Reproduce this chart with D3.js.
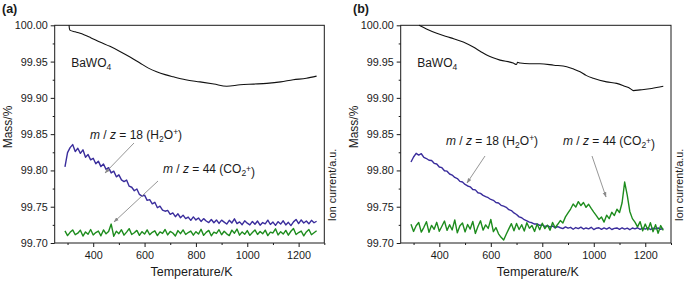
<!DOCTYPE html>
<html><head><meta charset="utf-8">
<script src="https://cdn.jsdelivr.net/npm/d3@7"></script>
<style>
html,body{margin:0;padding:0;background:#fff;}
svg{display:block;font-family:"Liberation Sans",Arial,sans-serif;}
</style></head>
<body>
<svg id="c" width="685" height="281"></svg>
<script>
// ---------- DATA ----------
const massTicks = [99.70, 99.75, 99.80, 99.85, 99.90, 99.95, 100.00];
const massMinor = [99.725, 99.775, 99.825, 99.875, 99.925, 99.975];
const tempTicks = [400, 600, 800, 1000, 1200];
const tempMinor = [300, 500, 700, 900, 1100, 1300];

// Mass curves (K, %)
const massA_T = [306, 307, 310, 330, 349, 390, 426, 465, 504, 545, 582, 615, 647, 680, 712, 760, 816, 870, 920, 972, 1025, 1076, 1130, 1179, 1230, 1270];
const massA_V = [100.00, 99.996, 99.993, 99.991, 99.989, 99.983, 99.977, 99.971, 99.964, 99.956, 99.948, 99.941, 99.936, 99.932, 99.929, 99.925, 99.922, 99.919, 99.916, 99.918, 99.919, 99.920, 99.922, 99.925, 99.927, 99.930];
const massB_T = [321, 350, 390, 442, 493, 532, 560, 584, 636, 687, 700, 704, 714, 750, 791, 845, 895, 920, 947, 970, 998, 1050, 1089, 1120, 1141, 1154, 1180, 1225, 1270];
const massB_V = [100.00, 99.995, 99.989, 99.983, 99.977, 99.970, 99.964, 99.959, 99.952, 99.948, 99.946, 99.949, 99.948, 99.947, 99.947, 99.945, 99.943, 99.940, 99.936, 99.931, 99.927, 99.922, 99.920, 99.916, 99.913, 99.910, 99.911, 99.913, 99.916];

// Ion currents (a.u.), sampled at these temperatures (K)
const ionT = [290,300,310,320,330,340,350,360,370,380,390,400,410,420,430,440,450,460,470,480,490,500,510,520,530,540,550,560,570,580,590,600,610,620,630,640,650,660,670,680,690,700,710,720,730,740,750,760,770,780,790,800,810,820,830,840,850,860,870,880,890,900,910,920,930,940,950,960,970,980,990,1000,1010,1020,1030,1040,1050,1060,1070,1080,1090,1100,1110,1120,1130,1140,1150,1160,1170,1180,1190,1200,1210,1220,1230,1240,1250,1260,1270];
const h2oA = [35.0,41.5,43.8,45.2,42.0,43.5,41.2,42.8,39.4,40.6,38.2,38.9,36.4,37.6,35.1,36.3,33.8,34.6,32.2,33.0,30.4,31.3,29.0,28.2,28.9,26.1,25.6,24.0,24.8,22.3,21.5,22.0,19.6,19.9,18.0,18.7,16.2,16.9,15.1,14.6,15.0,13.2,13.8,12.1,13.4,11.6,12.8,11.2,11.9,10.4,12.0,10.6,11.5,9.9,11.2,10.1,9.4,10.8,9.3,10.6,9.0,10.5,9.6,8.7,10.4,9.2,11.1,8.9,9.7,8.4,10.2,9.1,8.3,9.9,8.6,10.1,8.2,9.4,8.8,10.5,8.5,9.6,8.1,9.8,8.7,10.2,8.3,9.5,8.0,9.7,10.8,8.9,10.6,9.2,10.1,8.8,10.4,9.3,10.0];
const co2A = [5.6,3.4,4.9,6.0,3.8,4.5,5.9,3.2,5.1,4.0,6.2,3.7,4.8,5.5,3.3,6.0,4.2,5.3,8.7,3.1,5.4,4.3,6.1,3.6,5.0,6.6,3.9,4.7,5.8,3.5,5.2,4.1,6.0,3.8,4.9,5.6,3.4,5.1,4.4,6.2,3.7,5.3,4.6,3.2,5.7,4.3,6.0,3.9,4.8,5.5,3.6,5.2,4.1,6.3,3.5,4.9,5.8,3.3,5.0,4.4,6.1,3.8,5.4,4.2,3.4,5.9,4.5,6.4,3.6,5.1,4.0,5.7,3.5,4.8,6.0,3.9,5.3,4.2,5.9,3.4,5.0,4.6,6.5,3.7,5.2,4.1,5.8,3.6,5.4,6.7,3.9,4.8,5.5,3.3,5.1,6.2,3.8,4.7,5.6];
const h2oB = [37.2,39.5,41.2,40.4,41.0,39.3,38.8,38.0,37.9,36.6,36.3,34.9,34.6,33.2,33.0,31.7,31.2,30.1,29.6,28.3,28.0,26.9,26.2,25.8,24.6,24.4,23.1,22.8,21.9,21.3,20.8,20.0,19.6,18.6,18.4,17.3,16.9,16.4,15.3,14.9,13.8,13.1,12.0,11.6,10.7,10.2,9.6,9.3,8.7,8.8,8.1,8.4,7.6,8.0,7.3,7.8,6.9,7.5,7.0,6.6,7.4,6.8,7.2,6.3,7.1,6.6,7.3,6.4,6.9,6.5,7.2,6.2,6.8,7.0,6.3,6.9,6.4,7.1,6.2,6.7,6.9,6.3,7.0,6.4,6.8,6.1,6.9,6.5,7.0,6.3,6.8,6.4,7.0,6.2,6.8,6.5,6.9,6.3,6.7];
const co2B = [8.6,5.3,7.9,9.4,5.0,7.2,9.8,4.9,8.1,6.3,9.5,5.4,7.7,10.1,5.8,8.4,6.0,10.6,4.7,7.9,9.2,5.1,8.5,6.4,9.9,4.4,7.6,10.2,5.9,8.3,6.7,10.8,5.2,7.1,4.2,2.6,1.4,4.0,6.5,8.9,5.6,9.0,6.2,8.4,5.5,9.3,6.8,8.0,5.3,8.7,6.1,9.1,6.6,8.2,5.9,9.4,7.0,8.6,10.3,9.2,12.0,13.8,15.6,17.9,16.5,19.0,17.2,18.6,16.4,17.8,15.9,14.2,12.6,10.8,11.9,9.6,12.8,11.2,14.1,12.6,15.5,14.0,18.5,28.0,22.0,14.5,11.2,9.6,7.4,9.8,5.6,8.7,6.0,9.3,5.2,8.4,4.5,8.0,5.8];

// ---------- DRAW ----------
const svg = d3.select("#c");
const blue = "#3a2d9c", green = "#1d8c1d", grey = "#8a8a8a", ink = "#1a1a1a";

svg.append("defs").append("marker")
  .attr("id","ah").attr("viewBox","0 0 10 10").attr("refX",9).attr("refY",5)
  .attr("markerWidth",6).attr("markerHeight",6).attr("orient","auto")
  .append("path").attr("d","M0,1.5 L10,5 L0,8.5 Z").attr("fill",grey);

function panel(cfg){
  const g = svg.append("g");
  const x = d3.scaleLinear().domain([250,1300]).range([cfg.x0, cfg.x1]);
  const y = d3.scaleLinear().domain([99.70,100.00]).range([243,25.3]);
  const yi = d3.scaleLinear().domain([0,100]).range([243,25.3]);

  g.append("g").attr("transform","translate(0,243)")
    .call(d3.axisBottom(x).tickValues(tempTicks).tickSize(4).tickPadding(4).tickFormat(d3.format("d")));
  g.append("g").attr("transform","translate(0,243)")
    .call(d3.axisBottom(x).tickValues(tempMinor).tickSize(2).tickFormat(""));
  g.append("g").attr("transform",`translate(${cfg.x0},0)`)
    .call(d3.axisLeft(y).tickValues(massTicks).tickSize(4).tickPadding(3).tickFormat(d3.format(".2f")));
  g.append("g").attr("transform",`translate(${cfg.x0},0)`)
    .call(d3.axisLeft(y).tickValues(massMinor).tickSize(2).tickFormat(""));
  g.selectAll(".domain").remove();
  g.selectAll(".tick line").attr("stroke",ink);
  g.selectAll(".tick text").attr("font-size",10.8).attr("fill",ink).attr("font-family","Liberation Sans, Arial, sans-serif");

  g.append("rect").attr("x",cfg.x0).attr("y",25.3).attr("width",cfg.x1-cfg.x0).attr("height",243-25.3)
    .attr("fill","none").attr("stroke",ink).attr("stroke-width",1);

  const li = d3.line().x((d,i)=>x(ionT[i])).y(d=>yi(d));
  const first = cfg.co2First ? [cfg.h2o, blue] : [cfg.co2, green];
  const second = cfg.co2First ? [cfg.co2, green] : [cfg.h2o, blue];
  [first, second].forEach(s=>{
    g.append("path").datum(s[0]).attr("d",li).attr("fill","none")
      .attr("stroke",s[1]).attr("stroke-width",1.4).attr("stroke-linejoin","round");
  });

  const lm = d3.line().x(d=>x(d[0])).y(d=>y(d[1])).curve(d3.curveMonotoneX);
  g.append("path").datum(cfg.mT.map((t,i)=>[t,cfg.mV[i]])).attr("d",lm)
    .attr("fill","none").attr("stroke","#111").attr("stroke-width",1.1);

  g.append("text").attr("x",cfg.lab).attr("y",13).attr("font-size",12.5).attr("font-weight","bold")
    .attr("fill",ink).text(cfg.name);
  g.append("text").attr("transform",`translate(${cfg.x0-43},127) rotate(-90)`).attr("text-anchor","middle")
    .attr("font-size",12).attr("fill",ink).text("Mass/%");
  g.append("text").attr("transform",`translate(${cfg.x1+11.5},185) rotate(-90)`).attr("text-anchor","middle")
    .attr("font-size",10.8).attr("fill",ink).text("Ion current/a.u.");
  g.append("text").attr("x",(cfg.x0+cfg.x1)/2+2).attr("y",276).attr("text-anchor","middle")
    .attr("font-size",12.5).attr("fill",ink).text("Temperature/K");

  const bw = g.append("text").attr("x",cfg.x0+16.5).attr("y",67).attr("font-size",12).attr("fill",ink);
  bw.append("tspan").text("BaWO");
  bw.append("tspan").attr("dy",3).attr("font-size",8.5).text("4");

  function mz(tx,ty,num,a,b){
    const t = g.append("text").attr("x",tx).attr("y",ty).attr("font-size",12).attr("fill",ink);
    t.append("tspan").attr("font-style","italic").text("m");
    t.append("tspan").text(" / ");
    t.append("tspan").attr("font-style","italic").text("z");
    t.append("tspan").text(` = ${num} (${a}`);
    t.append("tspan").attr("dy",3).attr("font-size",8.5).text("2");
    t.append("tspan").attr("dy",-3).text(b);
    t.append("tspan").attr("dy",-4).attr("font-size",8.5).text("+");
    t.append("tspan").attr("dy",4).text(")");
  }
  mz(cfg.t1[0],cfg.t1[1],"18","H","O");
  mz(cfg.t2[0],cfg.t2[1],"44","CO","");
  cfg.arrows.forEach(a=>{
    g.append("line").attr("x1",a[0]).attr("y1",a[1]).attr("x2",a[2]).attr("y2",a[3])
      .attr("stroke",grey).attr("stroke-width",0.9).attr("marker-end","url(#ah)");
  });
}

panel({name:"(a)", lab:2, x0:54.7, x1:324.3, mT:massA_T, mV:massA_V, h2o:h2oA, co2:co2A, co2First:false,
  t1:[90,139], t2:[163,173],
  arrows:[[134,143,105,173],[158,181,114,222]]});
panel({name:"(b)", lab:353, x0:400.7, x1:671, mT:massB_T, mV:massB_V, h2o:h2oB, co2:co2B, co2First:true,
  t1:[446,145], t2:[563,145],
  arrows:[[485,156,467,183],[592,156,606,197]]});
</script>
</body></html>
